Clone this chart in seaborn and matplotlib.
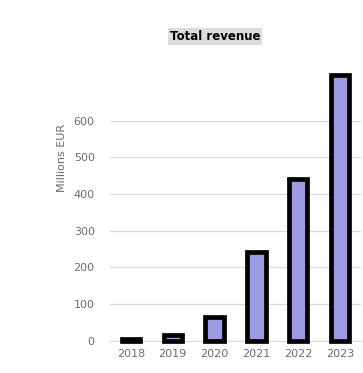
import matplotlib
matplotlib.use('Agg')
import matplotlib.pyplot as plt
import seaborn as sns
import pandas as pd

years = ['2018', '2019', '2020', '2021', '2022', '2023']
revenue = [4, 17, 66, 241, 442, 724]
yticks = [0, 100, 200, 300, 400, 500, 600]

df = pd.DataFrame({'year': years, 'revenue': revenue})

sns.set_style('white')
fig = plt.figure(figsize=(3.63, 3.73), dpi=100)
ax = fig.add_axes([0.303, 0.086, 0.691, 0.748])

sns.barplot(data=df, x='year', y='revenue', color='#9d9ae3', saturation=1,
            width=0.44, edgecolor='black', linewidth=3.4, ax=ax, zorder=3)

ax.set_ylim(0, 760)
ax.set_xlim(-0.5, 5.5)
ax.set_yticks(yticks)
ax.yaxis.grid(True, color='#d9d9d9', linewidth=0.9, zorder=0)
for s in ['top', 'right', 'left']:
    ax.spines[s].set_visible(False)
ax.spines['bottom'].set_color('#d9d9d9')
ax.tick_params(axis='both', length=0, labelsize=8, labelcolor='#6b6b6b')
ax.tick_params(axis='y', pad=11)
ax.tick_params(axis='x', pad=6)
ax.set_xlabel('')
ax.set_ylabel('Millions EUR', fontsize=8, color='#6b6b6b')
ax.yaxis.set_label_coords(-0.17, 0.656)
for p in ax.patches:
    p.set_clip_on(False)

fig.text(0.592, 0.903, 'Total revenue', ha='center', va='center', fontsize=8.5,
         fontweight='bold', color='black',
         bbox=dict(facecolor='#dcdcdc', edgecolor='none', pad=1.5))

fig.savefig('out.png', dpi=100)
